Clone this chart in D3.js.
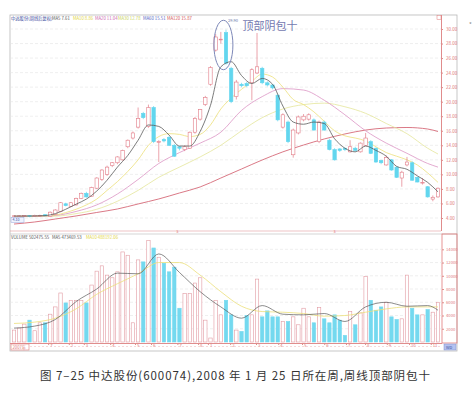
<!DOCTYPE html>
<html>
<head>
<meta charset="utf-8">
<script src="https://cdn.jsdelivr.net/npm/d3@7"></script>
<style>
body { margin: 0; background: #fff; }
text { font-family: "Noto Sans CJK SC", "Noto Sans", sans-serif; }
</style>
</head>
<body>
<div id="chart"></div>
<script>
// weekly bars
var opens  = [4.2,4.25,4.25,4.35,4.2,4.3,4.45,4.2,4.5,4.9,5.95,5.6,5.8,6.7,7.4,7.0,8.1,9.3,10.0,11.2,11.6,12.0,13.8,15.0,16.5,18.4,16.6,19.2,14.4,14.8,15.1,14.0,13.8,13.4,13.6,15.8,17.6,19.6,22.4,27.1,28.5,29.5,24.6,20.7,22.4,22.5,22.6,23.95,24.6,22.6,22.3,20.9,16.5,17.2,12.7,15.7,17.5,17.6,17.5,14.5,17.2,14.7,13.4,13.5,13.6,13.1,13.6,13.1,14.0,14.5,13.6,11.9,11.3,12.0,11.0,9.5,11.3,11.6,9.6,8.8,8.3,6.6,6.9];
var highs  = [4.4,4.4,4.4,4.4,4.45,4.45,4.55,4.9,5.2,6.2,6.1,6.2,6.8,7.5,7.6,8.3,9.6,10.7,11.2,11.7,12.5,13.4,14.8,15.9,19.2,18.6,19.6,19.4,14.7,15.0,15.3,14.2,13.9,14.0,15.9,17.9,19.0,20.8,24.9,29.3,29.6,29.9,24.8,23.0,22.6,22.7,24.6,29.45,24.8,22.8,22.4,21.0,18.4,17.4,16.3,18.1,18.3,18.4,17.7,17.4,17.4,14.9,13.6,13.6,13.7,14.7,13.8,14.4,15.7,14.7,13.7,12.0,12.6,12.1,11.1,10.5,12.4,11.8,9.7,9.5,8.4,7.1,8.2];
var lows   = [4.1,4.15,4.15,4.1,4.15,4.2,4.25,4.15,4.4,4.8,5.6,5.5,5.7,6.6,6.8,6.9,8.0,9.1,9.8,11.0,11.4,11.9,13.6,14.8,16.3,17.6,16.4,14.3,11.7,14.4,13.9,12.4,13.3,13.2,13.5,15.6,17.4,19.4,22.2,26.9,28.0,25.1,19.8,20.3,22.0,22.0,20.2,23.8,22.4,22.1,21.7,17.3,16.3,14.3,12.3,15.5,17.3,17.4,16.0,14.3,16.0,13.3,11.9,13.1,13.2,13.0,13.1,13.0,13.9,12.8,11.6,11.4,11.2,10.5,9.5,8.3,11.1,9.1,8.9,8.6,6.8,6.3,6.8];
var closes = [4.3,4.3,4.35,4.2,4.35,4.35,4.3,4.8,5.1,6.1,5.7,6.1,6.7,7.4,6.9,8.2,9.5,10.6,11.0,11.6,12.4,13.3,14.7,15.7,17.7,17.8,19.2,14.5,14.5,14.6,14.0,12.5,13.6,13.8,15.8,17.7,18.9,20.6,24.7,28.9,28.6,25.3,20.0,22.7,22.2,22.2,24.4,24.8,22.6,22.3,21.9,17.5,18.2,14.5,16.1,17.9,18.0,18.2,16.1,17.2,16.1,13.4,12.0,13.3,13.4,13.8,13.3,14.3,15.0,12.9,11.7,11.6,12.3,10.6,9.6,10.3,11.7,9.2,8.95,8.9,6.9,6.85,8.1];
var volumes = [1800,2100,2700,3300,1700,2900,2900,4200,5300,7400,5900,6300,6300,6300,5900,8600,10700,11500,10100,9700,10600,13600,13100,2900,12400,12100,15300,14200,12800,11900,10600,11300,5100,7300,7300,8900,9700,3300,600,6300,4100,6300,4100,1800,1600,4000,4100,9500,3800,4700,3800,3800,3100,3100,3800,2600,5100,3800,2900,5200,3500,2900,4100,3300,1000,4600,2600,4400,9900,6300,4800,5300,6000,3800,3400,3500,10100,5100,4100,4100,4900,4500,6000];

// moving averages, sampled at bar indices
var fastIdx = [0,2,4,6,8,10,12,14,16,18,20,22,24,26,28,30,32,34,36,38,40,42,44,46,48,50,52,54,56,58,60,62,64,66,68,70,72,74,76,78,80,82];
var ma5  = [4.27,4.27,4.28,4.33,4.6,5.2,5.9,6.6,7.7,9.2,11.0,12.6,14.7,16.8,16.6,15.4,13.9,13.9,15.9,19.5,24.8,25.5,23.6,22.5,23.2,22.4,19.4,17.2,16.9,17.2,17.0,14.9,13.6,13.1,13.9,13.3,12.5,11.1,10.7,9.8,8.9,7.6];
var ma10 = [4.25,4.26,4.27,4.3,4.4,4.75,5.2,5.8,6.6,7.8,9.0,10.4,12.0,14.0,15.2,15.6,15.5,15.2,15.5,16.8,19.0,20.5,21.7,22.8,23.8,23.4,22.0,20.3,19.6,18.6,17.3,16.0,15.3,15.0,14.6,13.8,13.0,12.5,12.0,11.3,10.2,8.9];
var slowIdx = [0,4,8,12,16,20,24,28,32,36,40,44,48,52,56,60,64,68,72,76,80,82];
var ma20  = [4.2,4.22,4.35,4.9,5.8,7.3,9.3,11.5,13.0,14.3,15.8,18.8,20.7,21.8,21.6,20.2,18.2,16.0,14.3,12.9,11.5,11.0];
var ma30  = [4.2,4.2,4.25,4.6,5.2,6.3,7.8,9.6,11.0,12.4,14.0,16.0,17.8,19.0,19.6,19.8,19.3,18.4,17.0,15.6,13.6,12.8];
var ma120 = [3.17,3.45,3.86,4.28,4.76,5.24,5.93,6.62,7.44,8.27,9.5,10.74,11.98,13.1,14.04,14.87,15.56,16.1,16.38,16.45,16.24,15.9];
var volMa5  = [2100,2400,3400,6100,8000,10400,10300,13300,10500,7600,5300,3600,5500,4200,4100,4300,3100,5300,6000,5400,5500,4800];
var volMa10 = [2800,3000,3600,5000,7200,8800,10300,12000,12000,10100,7600,5400,4600,4500,4300,3900,4000,4500,5000,5300,5300,5300];

var priceTicks = [4,6,8,10,12,14,16,18,20,22,24,26,28,30];
var volTicks = [2000,4000,6000,8000,10000,12000,14000];
var dateIdx = [6.6,10.6,13.5,18.6,23.4,26.5,31.6,35.6,37.5,41.8,46.8,51.1,55.7,60,64.2,67.9,72.1,76.4,80.6];
var dateLabels = ["7","2","3","4","5","6","7","8","1","2","3","4","5","6","7","8","9","10","11"];

var priceHeader = [
  {t: "中达股份(周线后复权)", c: "#34449a", x: 11},
  {t: "MA5 7.61", c: "#555", x: 52},
  {t: "MA10 8.86", c: "#e2d43a", x: 73},
  {t: "MA20 11.04", c: "#cc66b0", x: 95},
  {t: "MA30 12.78", c: "#c9d25a", x: 118},
  {t: "MA60 15.51", c: "#5563c4", x: 143},
  {t: "MA120 15.87", c: "#d45050", x: 167}
];
var volHeader = [
  {t: "VOLUME 502475.55", c: "#555", x: 11},
  {t: "MA5 473469.53", c: "#555", x: 52},
  {t: "MA10 488192.06", c: "#e2d43a", x: 86}
];

var upColor = "#e27b86", downColor = "#62d6ee";

var svg = d3.select("#chart").append("svg")
  .attr("width", 476)
  .attr("height", 414);

var x = d3.scaleLinear().domain([0, 82]).range([14, 438]);
var yPrice = d3.scaleLinear().domain([4, 30]).range([218, 29]);
var yVol = d3.scaleLinear().domain([0, 14000]).range([342, 249.3]);

// frames
svg.append("rect").attr("x", 10).attr("y", 15).attr("width", 447).attr("height", 336)
  .attr("fill", "none").attr("stroke", "#b8b8b8").attr("stroke-width", 0.8);
svg.append("line").attr("x1", 10).attr("x2", 441).attr("y1", 231).attr("y2", 231)
  .attr("stroke", "#e39aa0").attr("stroke-width", 0.6);
svg.append("line").attr("x1", 10).attr("x2", 457).attr("y1", 234).attr("y2", 234)
  .attr("stroke", "#b8b8b8").attr("stroke-width", 0.6);
svg.append("rect").attr("x", 442).attr("y", 234).attr("width", 15).attr("height", 109)
  .attr("fill", "none").attr("stroke", "#e07a7a").attr("stroke-width", 0.8);

// grid
svg.selectAll(".pgrid").data(priceTicks).enter().append("line")
  .attr("x1", 10).attr("x2", 441)
  .attr("y1", function(d) { return yPrice(d); })
  .attr("y2", function(d) { return yPrice(d); })
  .attr("stroke", "#e4e4e4").attr("stroke-width", 0.6).attr("stroke-dasharray", "3,2");
svg.selectAll(".vgrid").data(volTicks).enter().append("line")
  .attr("x1", 10).attr("x2", 442)
  .attr("y1", function(d) { return yVol(d); })
  .attr("y2", function(d) { return yVol(d); })
  .attr("stroke", "#e4e4e4").attr("stroke-width", 0.6).attr("stroke-dasharray", "3,2");

// axes
var pAxis = svg.append("g").attr("transform", "translate(441,0)")
  .call(d3.axisRight(yPrice).tickValues(priceTicks).tickFormat(d3.format(".2f")).tickSize(2).tickPadding(3));
pAxis.select(".domain").attr("stroke", "#e08c8c").attr("d", "M0.5,15V231");
pAxis.selectAll(".tick line").attr("stroke", "#e08c8c");
pAxis.selectAll("text").attr("fill", "#e07878").style("font-size", "4.5px");

var vAxis = svg.append("g").attr("transform", "translate(442,0)")
  .call(d3.axisRight(yVol).tickValues(volTicks).tickFormat(d3.format("d")).tickSize(2).tickPadding(2));
vAxis.select(".domain").remove();
vAxis.selectAll(".tick line").attr("stroke", "#e08c8c");
vAxis.selectAll("text").attr("fill", "#e07878").style("font-size", "4.2px");

var dAxis = svg.append("g").attr("transform", "translate(0,343)")
  .call(d3.axisBottom(x).tickValues(dateIdx).tickFormat(function(d, i) { return dateLabels[i]; }).tickSize(2));
dAxis.select(".domain").attr("stroke", "#e08c8c").attr("d", "M10,0.5H442");
dAxis.selectAll(".tick line").attr("stroke", "#e08c8c");
dAxis.selectAll("text").attr("fill", "#e07878").style("font-size", "4.2px")
  .attr("text-anchor", "start").attr("x", 1.5).attr("y", 1.5);
svg.append("line").attr("x1", 30).attr("x2", 441).attr("y1", 346.5).attr("y2", 346.5)
  .attr("stroke", "#eeb4b4").attr("stroke-width", 0.5).attr("stroke-dasharray", "2,2");
svg.append("rect").attr("x", 11).attr("y", 344).attr("width", 18).attr("height", 6)
  .attr("fill", "#fff").attr("stroke", "#e07a7a").attr("stroke-width", 0.6);
svg.append("text").attr("x", 12.5).attr("y", 348.8).attr("fill", "#e07878")
  .style("font-size", "4.2px").text("2007年");
svg.append("rect").attr("x", 444).attr("y", 344).attr("width", 12).attr("height", 6)
  .attr("fill", "#b4c2f0").attr("stroke", "#8090d0").attr("stroke-width", 0.5);
svg.append("text").attr("x", 446).attr("y", 348.8).attr("fill", "#4050a0")
  .style("font-size", "4px").text("WD");

// moving averages
function maLine(idx, vals, yScale) {
  return d3.line()
    .x(function(d, i) { return x(idx[i]); })
    .y(function(d) { return yScale(d); })
    .curve(d3.curveMonotoneX)(vals);
}
var maSeries = [
  {idx: slowIdx, v: ma120, c: "#d66a78", w: 0.9},
  {idx: slowIdx, v: ma30, c: "#e4e69a", w: 0.8},
  {idx: slowIdx, v: ma20, c: "#dc94c4", w: 0.8},
  {idx: fastIdx, v: ma10, c: "#ece07a", w: 0.8}
];
maSeries.forEach(function(s) {
  svg.append("path").attr("d", maLine(s.idx, s.v, yPrice))
    .attr("fill", "none").attr("stroke", s.c).attr("stroke-width", s.w);
});

// candles
var bw = 3.4;
var candles = svg.selectAll(".candle").data(opens).enter().append("g").attr("class", "candle");
candles.append("line")
  .attr("x1", function(d, i) { return x(i); })
  .attr("x2", function(d, i) { return x(i); })
  .attr("y1", function(d, i) { return yPrice(highs[i]); })
  .attr("y2", function(d, i) { return yPrice(lows[i]); })
  .attr("stroke", function(d, i) { return closes[i] >= opens[i] ? upColor : downColor; })
  .attr("stroke-width", 0.7);
candles.append("rect")
  .attr("x", function(d, i) { return x(i) - bw / 2; })
  .attr("width", bw)
  .attr("y", function(d, i) { return yPrice(Math.max(opens[i], closes[i])); })
  .attr("height", function(d, i) { return Math.max(0.7, Math.abs(yPrice(opens[i]) - yPrice(closes[i]))); })
  .attr("fill", function(d, i) { return closes[i] >= opens[i] ? "#fff" : downColor; })
  .attr("stroke", function(d, i) { return closes[i] >= opens[i] ? upColor : downColor; })
  .attr("stroke-width", 0.6);

svg.append("path").attr("d", maLine(fastIdx, ma5, yPrice))
  .attr("fill", "none").attr("stroke", "#5a5a5a").attr("stroke-width", 0.8);

// volume
var vols = svg.selectAll(".vol").data(volumes).enter().append("rect").attr("class", "vol")
  .attr("x", function(d, i) { return x(i) - bw / 2; })
  .attr("width", bw)
  .attr("y", function(d) { return yVol(d); })
  .attr("height", function(d) { return yVol(0) - yVol(d); })
  .attr("fill", function(d, i) { return closes[i] >= opens[i] ? "#fff" : "#74d9ef"; })
  .attr("stroke", function(d, i) { return closes[i] >= opens[i] ? "#e29aa2" : "#74d9ef"; })
  .attr("stroke-width", 0.6);
svg.append("path").attr("d", maLine(slowIdx, volMa10, yVol))
  .attr("fill", "none").attr("stroke", "#ece07a").attr("stroke-width", 0.8);
svg.append("path").attr("d", maLine(slowIdx, volMa5, yVol))
  .attr("fill", "none").attr("stroke", "#5a5a5a").attr("stroke-width", 0.7);

// headers
svg.selectAll(".ph").data(priceHeader).enter().append("text")
  .attr("x", function(d) { return d.x; }).attr("y", 19.5)
  .attr("fill", function(d) { return d.c; })
  .style("font-size", "4.3px").text(function(d) { return d.t; });
svg.selectAll(".vh").data(volHeader).enter().append("text")
  .attr("x", function(d) { return d.x; }).attr("y", 239)
  .attr("fill", function(d) { return d.c; })
  .style("font-size", "4.3px").text(function(d) { return d.t; });

// small markers
svg.append("rect").attr("x", 437).attr("y", 15.5).attr("width", 4).attr("height", 4)
  .attr("fill", "#fff").attr("stroke", "#e07a7a").attr("stroke-width", 0.5);
svg.append("text").attr("x", 469).attr("y", 27).attr("fill", "#888").style("font-size", "6px").text("*");
[31.6, 62].forEach(function(d) {
  svg.append("text").attr("x", x(d)).attr("y", 233).attr("text-anchor", "middle")
    .attr("fill", "#e07878").style("font-size", "4px").text("s");
});
svg.append("rect").attr("x", 11).attr("y", yPrice(4.1) + 0.5).attr("width", 13).attr("height", 4.5)
  .attr("fill", "#eef3ff").attr("stroke", "#7f8fcf").attr("stroke-width", 0.4);
svg.append("text").attr("x", 12.5).attr("y", yPrice(4.1) + 4).attr("fill", "#3a4ea8")
  .style("font-size", "3.6px").text("4.10");
svg.append("text").attr("x", x(41) + 2).attr("y", yPrice(29.9) - 8).attr("fill", "#6a75a8")
  .style("font-size", "4px").text("29.90");

// annotation
svg.append("ellipse")
  .attr("cx", x(40.5)).attr("cy", (yPrice(31.2) + yPrice(24.4)) / 2)
  .attr("rx", 9.5).attr("ry", (yPrice(24.4) - yPrice(31.2)) / 2)
  .attr("fill", "none").attr("stroke", "#7d88b8").attr("stroke-width", 1);
svg.append("text").attr("x", x(44) + 1).attr("y", 29.5)
  .attr("fill", "#7479b0").style("font-size", "11px")
  .text("顶部阴包十");

// caption
svg.append("text").attr("x", 40).attr("y", 380)
  .attr("fill", "#333").style("font-size", "11.5px")
  .attr("textLength", 390).attr("lengthAdjust", "spacing")
  .text("图 7–25   中达股份(600074),2008 年 1 月 25 日所在周,周线顶部阴包十");
</script>
</body>
</html>
